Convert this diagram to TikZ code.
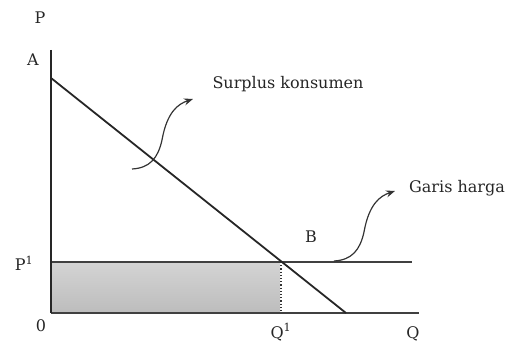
\documentclass[tikz,border=0pt]{standalone}
\usepackage{fontspec}
\setmainfont{DejaVu Serif}
\usetikzlibrary{arrows.meta}
\begin{document}
\begin{tikzpicture}[x=1pt,y=-1pt,
  lbl/.style={inner sep=0pt,font=\fontsize{16}{18}\selectfont,text=black!85},
  axis/.style={line width=1.8pt,black!85},
  pline/.style={line width=1.8pt,black!75},
  callout/.style={line width=1.2pt,black!80,-{Stealth[length=9pt,width=7pt]}}]
\useasboundingbox (0,0) rectangle (507,342);
% shaded area
\shade[top color=black!17,bottom color=black!26] (51,262) rectangle (280,313);
% coordinates
\coordinate (O) at (51,313);
\coordinate (Ytop) at (51,50);
\coordinate (Xend) at (419,313);
\coordinate (Aa) at (51,78);
\coordinate (Dend) at (346,313);
\coordinate (P1l) at (51,262);
\coordinate (P1r) at (412,262);
\coordinate (Bpt) at (281,262);
\coordinate (Q1b) at (281,313);
% lines
\draw[pline] (P1l) -- (P1r);
\draw[pline] (O) -- (Xend);
\draw[line width=1.2pt,black!80,dotted] (Bpt) -- (Q1b);
\draw[axis] (Ytop) -- (O);
\draw[line width=1.8pt,black!85] (Aa) -- (Dend);
% labels
\node[lbl] (P) at (40,18) {P};
\node[lbl] (A) at (33,60) {A};
\node[lbl] (P1) at (24,263) {P\textsuperscript{1}};
\node[lbl] (zero) at (41,326) {0};
\node[lbl] (Q1) at (281,332) {Q\textsuperscript{1}};
\node[lbl] (Q) at (413,334) {Q};
\node[lbl] (B) at (311,237) {B};
\node[lbl] (sk) at (288,84) {Surplus konsumen};
\node[lbl] (gh) at (457,188) {Garis harga};
% callouts
\coordinate (c1s) at (132,169);
\coordinate (c1e) at (193,99);
\coordinate (c2s) at (334,261);
\coordinate (c2e) at (395,191);
\draw[callout] (c1s) .. controls (150,168) and (158,158) .. (162,140)
  .. controls (167,112) and (178,104) .. (c1e);
\draw[callout] (c2s) .. controls (352,260) and (360,250) .. (364,232)
  .. controls (369,204) and (380,196) .. (c2e);
\end{tikzpicture}
\end{document}
